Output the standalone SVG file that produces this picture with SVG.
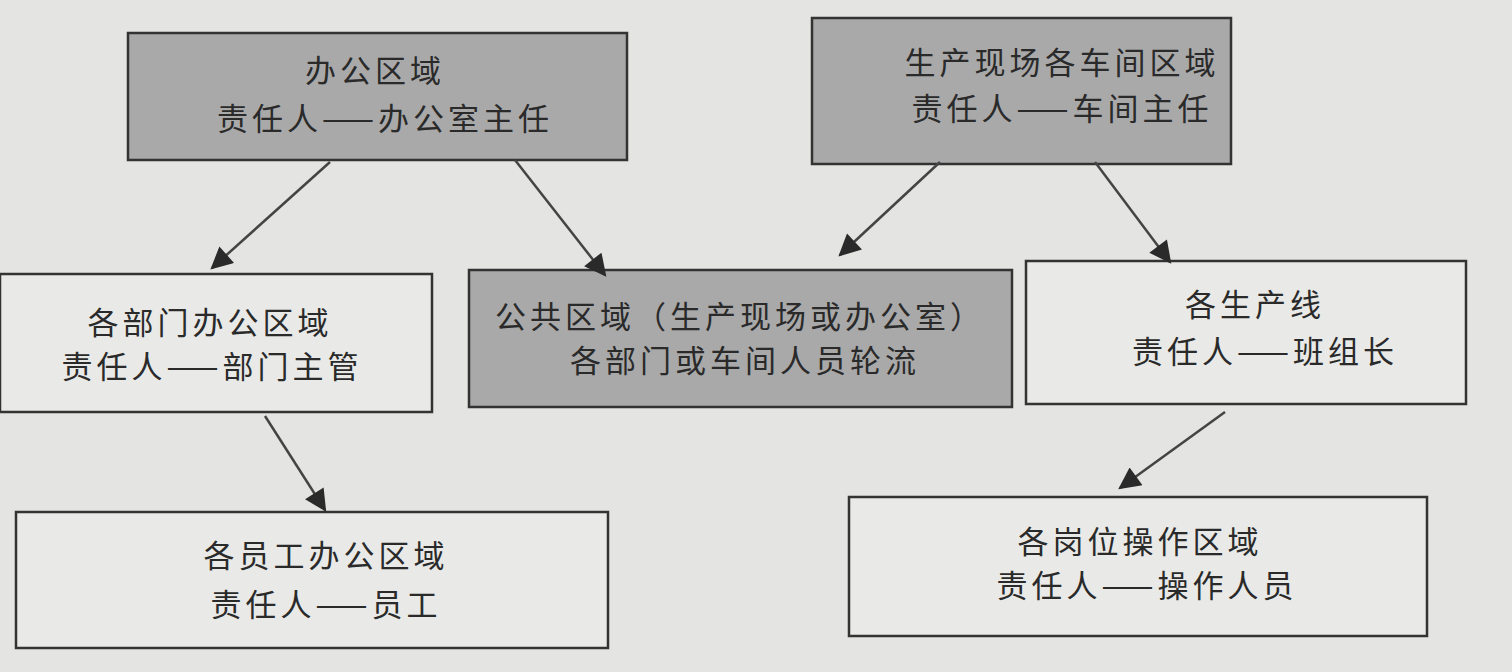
<svg xmlns="http://www.w3.org/2000/svg" width="1512" height="672" viewBox="0 0 1512 672">
<style>
.g{fill:#a9a9a9;stroke:#333;stroke-width:2.5}
.w{fill:#e9e9e7;stroke:#333;stroke-width:2.5}
text{font-family:"Noto Sans CJK SC","Noto Sans",sans-serif;font-size:31px;fill:#2a2a2a;text-anchor:middle;letter-spacing:4px}
.c line{stroke:#444;stroke-width:2.5;marker-end:url(#a)}
</style>
<defs><marker id="a" viewBox="0 0 10 10" refX="9" refY="5" markerWidth="24" markerHeight="22" markerUnits="userSpaceOnUse" orient="auto"><path d="M0,0L10,5L0,10z" fill="#2a2a2a"/></marker></defs>
<rect width="1512" height="672" fill="#e4e4e2"/>
<g id="n1"><rect class="g" x="128" y="33" width="499" height="127"/><text x="375" y="82">办公区域</text><text x="385" y="130">责任人——办公室主任</text></g>
<g id="n2"><rect class="g" x="812" y="18" width="419" height="146"/><text x="1062" y="74">生产现场各车间区域</text><text x="1062" y="120">责任人——车间主任</text></g>
<g id="n3"><rect class="w" x="0" y="274" width="432" height="138"/><text x="210" y="334">各部门办公区域</text><text x="212" y="378">责任人——部门主管</text></g>
<g id="n4"><rect class="g" x="469" y="270" width="543" height="137"/><text x="740" y="328">公共区域（生产现场或办公室）</text><text x="745" y="372">各部门或车间人员轮流</text></g>
<g id="n5"><rect class="w" x="1026" y="261" width="440" height="143"/><text x="1255" y="316">各生产线</text><text x="1265" y="363">责任人——班组长</text></g>
<g id="n6"><rect class="w" x="16" y="512" width="592" height="136"/><text x="326" y="567">各员工办公区域</text><text x="326" y="616">责任人——员工</text></g>
<g id="n7"><rect class="w" x="849" y="497" width="578" height="139"/><text x="1140" y="553">各岗位操作区域</text><text x="1147" y="597">责任人——操作人员</text></g>
<g class="c" id="connectors">
<line x1="330" y1="162" x2="212" y2="268"/>
<line x1="515" y1="160" x2="605" y2="275"/>
<line x1="940" y1="162" x2="840" y2="255"/>
<line x1="1095" y1="162" x2="1170" y2="262"/>
<line x1="265" y1="416" x2="325" y2="510"/>
<line x1="1225" y1="412" x2="1120" y2="488"/>
</g>
</svg>
